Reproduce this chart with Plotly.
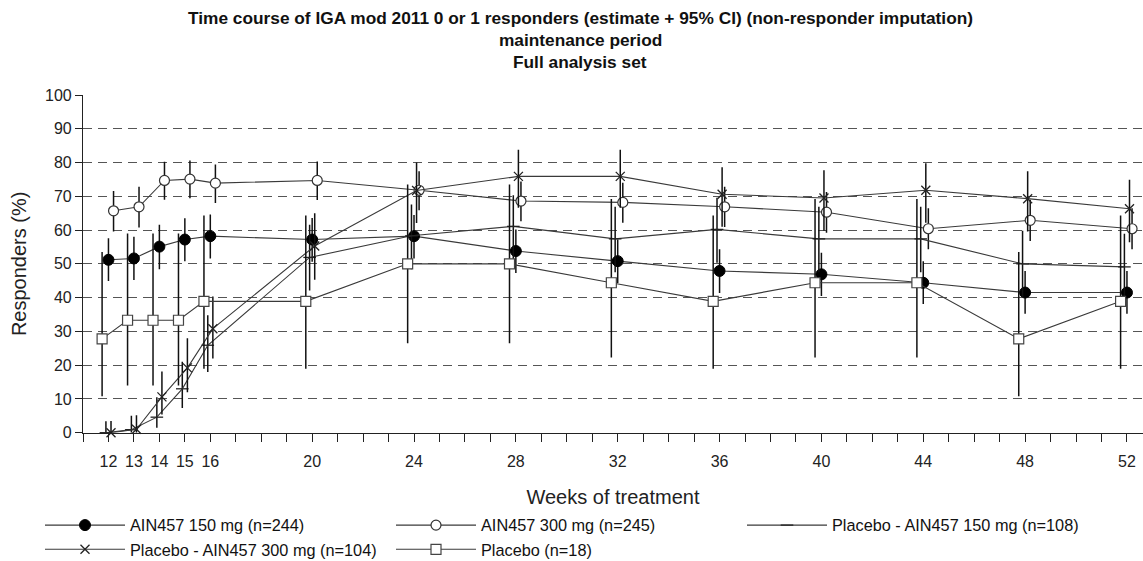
import plotly.graph_objects as go

weeks = [12, 13, 14, 15, 16, 20, 24, 28, 32, 36, 40, 44, 48, 52]
tick_weeks = list(range(11, 53))
tick_labels = [str(w) if w in weeks else "" for w in tick_weeks]

title_lines = [
    "Time course of IGA mod 2011 0 or 1 responders (estimate + 95% CI) (non-responder imputation)",
    "maintenance period",
    "Full analysis set",
]

series_names = [
    "AIN457 150 mg (n=244)",
    "AIN457 300 mg (n=245)",
    "Placebo - AIN457 150 mg (n=108)",
    "Placebo - AIN457 300 mg (n=104)",
    "Placebo (n=18)",
]

ain150_est = [51.2, 51.6, 55.1, 57.2, 58.2, 57.2, 58.2, 53.8, 50.8, 47.9, 46.9, 44.4, 41.5, 41.5]
ain150_lo = [44.9, 45.2, 48.4, 50.8, 51.6, 50.6, 51.6, 47.3, 44.3, 41.4, 40.5, 38.1, 35.2, 35.2]
ain150_hi = [57.6, 58.0, 61.6, 63.5, 64.6, 63.6, 64.5, 60.2, 57.2, 54.3, 53.3, 50.8, 47.9, 47.9]

ain300_est = [65.7, 66.9, 74.7, 75.1, 73.9, 74.7, 71.8, 68.6, 68.2, 66.9, 65.3, 60.4, 62.9, 60.4]
ain300_lo = [59.6, 60.8, 69.0, 69.4, 68.0, 68.9, 65.9, 62.6, 62.2, 60.9, 59.2, 54.3, 56.8, 54.3]
ain300_hi = [71.6, 72.8, 80.2, 80.6, 79.4, 80.3, 77.4, 74.4, 74.0, 72.8, 71.3, 66.5, 69.0, 66.5]

pla150_est = [0.0, 0.9, 4.6, 13.0, 25.9, 51.9, 58.3, 61.1, 57.4, 60.2, 57.4, 57.4, 50.0, 49.1]
pla150_lo = [0.0, 0.0, 1.5, 7.3, 18.0, 42.1, 48.4, 51.3, 47.5, 50.3, 47.5, 47.5, 40.2, 39.3]
pla150_hi = [3.4, 5.0, 10.5, 21.0, 34.8, 61.6, 67.6, 70.3, 66.9, 69.6, 66.9, 66.9, 59.8, 58.9]

pla300_est = [0.0, 1.0, 10.6, 19.2, 30.8, 55.3, 71.7, 75.9, 75.9, 70.6, 69.5, 71.8, 69.3, 66.3]
pla300_lo = [0.0, 0.0, 5.4, 12.0, 22.0, 45.3, 62.1, 66.6, 66.6, 61.0, 59.8, 62.2, 59.6, 56.4]
pla300_hi = [3.5, 5.2, 18.1, 28.0, 40.3, 65.0, 80.0, 83.8, 83.8, 78.6, 77.7, 79.8, 77.4, 74.9]

pbo_est = [27.8, 33.3, 33.3, 33.3, 38.9, 38.9, 50.0, 50.0, 44.4, 38.9, 44.4, 44.4, 27.8, 38.9]
pbo_lo = [10.8, 14.0, 14.0, 14.0, 18.9, 18.9, 26.5, 26.5, 22.3, 18.9, 22.3, 22.3, 10.8, 18.9]
pbo_hi = [53.5, 59.0, 59.0, 59.0, 64.3, 64.3, 73.5, 73.5, 69.2, 64.3, 69.2, 69.2, 53.5, 64.3]

data = [
    (ain150_est, ain150_lo, ain150_hi),
    (ain300_est, ain300_lo, ain300_hi),
    (pla150_est, pla150_lo, pla150_hi),
    (pla300_est, pla300_lo, pla300_hi),
    (pbo_est, pbo_lo, pbo_hi),
]

styles = [
    dict(offset=0.0, marker=dict(symbol="circle", size=11, color="black", line=dict(color="black", width=1))),
    dict(offset=0.2, marker=dict(symbol="circle", size=10, color="white", line=dict(color="#333", width=1.2))),
    dict(offset=-0.1, marker=dict(symbol="line-ew", size=9, color="#222", line=dict(color="#222", width=1.3))),
    dict(offset=0.1, marker=dict(symbol="x-thin", size=9, color="#222", line=dict(color="#222", width=1.3))),
    dict(offset=-0.25, marker=dict(symbol="square", size=10, color="white", line=dict(color="#444", width=1.2))),
]

FONT = "Liberation Sans, Arial, sans-serif"

fig = go.Figure()
for name, (est, lo, hi), st in zip(series_names, data, styles):
    xs = [w + st["offset"] for w in weeks]
    fig.add_trace(go.Scatter(
        x=xs, y=est, name=name, mode="lines+markers",
        line=dict(color="#3a3a3a", width=1.1),
        marker=st["marker"],
        error_y=dict(type="data", symmetric=False,
                     array=[h - e for h, e in zip(hi, est)],
                     arrayminus=[e - l for e, l in zip(est, lo)],
                     color="#111", thickness=1.5, width=0),
        cliponaxis=False,
    ))

# title lines as annotations above the plot area (plot top at 95 px, bottom at 434 px)
title_y_px = [18, 40, 62]
for txt, ypx in zip(title_lines, title_y_px):
    fig.add_annotation(
        text="<b>" + txt + "</b>", xref="paper", yref="paper",
        x=(580 - 83) / 1060, y=(434 - ypx) / 339, xanchor="center", yanchor="middle",
        showarrow=False, font=dict(size=17.3, family=FONT, color="#111"),
    )

fig.update_layout(
    width=1143, height=561,
    margin=dict(l=83, r=0, t=95, b=127),
    paper_bgcolor="white", plot_bgcolor="white",
    font=dict(family=FONT, color="#111"),
    showlegend=True,
    legend=dict(
        orientation="h", xref="container", yref="container",
        x=40 / 1143, xanchor="left", y=1 - 508 / 561, yanchor="top",
        font=dict(size=16.3, family=FONT, color="#111"),
        entrywidth=256, entrywidthmode="pixels",
        itemwidth=80, tracegroupgap=0, bgcolor="rgba(0,0,0,0)",
    ),
    xaxis=dict(
        range=[11, 52.63], tickmode="array", tickvals=tick_weeks, ticktext=tick_labels,
        ticks="outside", ticklen=8, tickwidth=1.2, tickcolor="#222",
        showline=True, linecolor="#222", linewidth=1.2,
        showgrid=False, zeroline=False,
        tickfont=dict(size=16, color="#222"), ticklabelstandoff=6,
        title=dict(text="Weeks of treatment", font=dict(size=20, color="#222"), standoff=24),
    ),
    yaxis=dict(
        range=[0, 100], tickmode="array", tickvals=list(range(0, 101, 10)),
        ticks="outside", ticklen=7, tickwidth=1.2, tickcolor="#222",
        showline=True, linecolor="#222", linewidth=1.2,
        showgrid=True, gridcolor="#555", gridwidth=1.3, griddash="9px,6px",
        zeroline=False,
        tickfont=dict(size=16, color="#222"),
        title=dict(text="Responders (%)", font=dict(size=20, color="#222"), standoff=12),
    ),
)

fig.write_html("out.html")
